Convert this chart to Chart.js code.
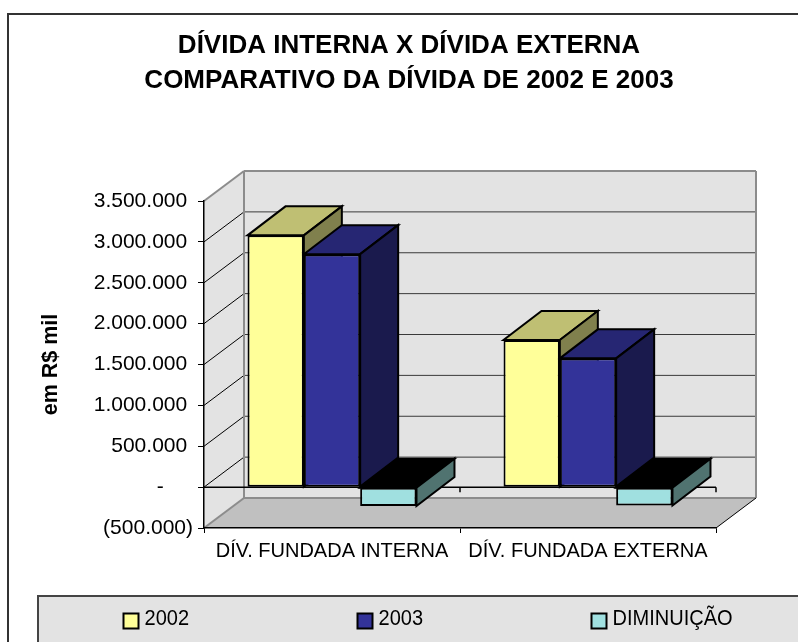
<!DOCTYPE html>
<html>
<head>
<meta charset="utf-8">
<script src="https://cdn.jsdelivr.net/npm/chart.js@4/dist/chart.umd.min.js"></script>
<style>
  body { margin: 0; background: #fff; }
  canvas { display: block; }
</style>
</head>
<body>
<canvas id="barChart" width="798" height="642"></canvas>
<script>
const titleLines = ['DÍVIDA INTERNA X DÍVIDA EXTERNA', 'COMPARATIVO DA DÍVIDA DE 2002 E 2003'];
const categories = ['DÍV. FUNDADA INTERNA', 'DÍV. FUNDADA EXTERNA'];
const seriesNames = ['2002', '2003', 'DIMINUIÇÃO'];
const values2002 = [3080000, 1800000];
const values2003 = [2850000, 1575000];
const valuesDiminuicao = [-230000, -225000];
const yMin = -500000;
const yMax = 3500000;
const yStep = 500000;
const yTitle = 'em R$ mil';

const FONT = '"Liberation Sans", Arial, sans-serif';

// front / top / side colours of each series
const faceColors = [
  { front: '#ffff99', top: '#bfbf73', side: '#80804d' },
  { front: '#333399', top: '#262673', side: '#1a1a4d' },
  { front: '#a0e0e0', top: '#000000', side: '#507370' }
];

// depth of the walls and of the bars
const WALL_DX = 40, WALL_DY = -30;
const BAR_DX = 38, BAR_DY = -29;

function poly(ctx, pts, fill, stroke, lw) {
  ctx.beginPath();
  ctx.moveTo(pts[0][0], pts[0][1]);
  for (let i = 1; i < pts.length; i++) ctx.lineTo(pts[i][0], pts[i][1]);
  ctx.closePath();
  if (fill) { ctx.fillStyle = fill; ctx.fill(); }
  if (stroke) { ctx.strokeStyle = stroke; ctx.lineWidth = lw; ctx.stroke(); }
}

function line(ctx, x1, y1, x2, y2, color, lw) {
  ctx.beginPath();
  ctx.moveTo(x1, y1);
  ctx.lineTo(x2, y2);
  ctx.strokeStyle = color;
  ctx.lineWidth = lw;
  ctx.stroke();
}

function formatNumber(v) {
  return String(Math.abs(v)).replace(/\B(?=(\d{3})+(?!\d))/g, '.');
}

const walls3d = {
  id: 'walls3d',
  beforeDraw(chart) {
    const { ctx, chartArea, scales: { y } } = chart;
    const L = chartArea.left, R = chartArea.right, T = chartArea.top, B = chartArea.bottom;
    const dx = WALL_DX, dy = WALL_DY;
    ctx.save();

    // outer frame
    ctx.strokeStyle = '#333';
    ctx.lineWidth = 2;
    ctx.strokeRect(8, 14, 820, 700);

    // title
    ctx.fillStyle = '#000';
    ctx.font = 'bold 26px ' + FONT;
    ctx.textAlign = 'center';
    ctx.textBaseline = 'middle';
    titleLines.forEach((t, i) => ctx.fillText(t, 409, 46 + i * 34.5));

    // walls and floor
    poly(ctx, [[L + dx, T + dy], [R + dx, T + dy], [R + dx, B + dy], [L + dx, B + dy]], '#e3e3e3');
    poly(ctx, [[L, T], [L + dx, T + dy], [L + dx, B + dy], [L, B]], '#e3e3e3');
    poly(ctx, [[L, B], [R, B], [R + dx, B + dy], [L + dx, B + dy]], '#c0c0c0');

    // grid on back wall and side wall
    y.ticks.forEach(t => {
      if (t.value === y.max || t.value === y.min) return;
      const py = y.getPixelForValue(t.value);
      line(ctx, L + dx, py + dy, R + dx, py + dy, '#3a3a3a', 1);
      line(ctx, L, py, L + dx, py + dy, '#000', 1);
    });

    // wall edges
    const edge = '#8c8c8c';
    line(ctx, L + dx, T + dy, R + dx, T + dy, edge, 2);
    line(ctx, R + dx, T + dy, R + dx, B + dy, edge, 2);
    line(ctx, L + dx, T + dy, L + dx, B + dy, edge, 2);
    line(ctx, L + dx, B + dy, R + dx, B + dy, edge, 2);
    line(ctx, L, T, L + dx, T + dy, edge, 2);
    line(ctx, L, B, L + dx, B + dy, edge, 2);
    line(ctx, R, B, R + dx, B + dy, '#000', 1);
    ctx.restore();
  },
  beforeDatasetsDraw(chart) {
    const { ctx, chartArea, scales: { x, y } } = chart;
    ctx.save();

    // category axis on the zero plane
    const y0 = y.getPixelForValue(0);
    line(ctx, chartArea.left, y0, chartArea.right, y0, '#000', 1.5);
    categories.forEach((c, i) => {
      const bx = x.getPixelForValue(i + 0.5);
      line(ctx, bx, y0, bx, y0 + 5, '#000', 1.5);
    });

    // top and side faces of the bars
    categories.forEach((c, j) => {
      chart.data.datasets.forEach((ds, i) => {
        const bar = chart.getDatasetMeta(i).data[j];
        const { x: bx, y: by, base, width } = bar.getProps(['x', 'y', 'base', 'width'], true);
        const left = bx - width / 2, right = bx + width / 2;
        const top = Math.min(by, base), bottom = Math.max(by, base);
        poly(ctx, [[left, top], [right, top], [right + BAR_DX, top + BAR_DY], [left + BAR_DX, top + BAR_DY]],
          faceColors[i].top, '#000', 2);
        poly(ctx, [[right, top], [right + BAR_DX, top + BAR_DY], [right + BAR_DX, bottom + BAR_DY], [right, bottom]],
          faceColors[i].side, '#000', 2);
      });
    });
    ctx.restore();
  },
  afterDraw(chart) {
    const { ctx } = chart;
    ctx.save();

    // legend box
    ctx.fillStyle = '#e3e3e3';
    ctx.fillRect(38, 596, 800, 60);
    ctx.strokeStyle = '#444';
    ctx.lineWidth = 2;
    ctx.strokeRect(38, 596, 800, 60);

    chart.data.datasets.forEach((ds, i) => {
      const mx = 123.5 + i * 234;
      ctx.fillStyle = ds.backgroundColor;
      ctx.fillRect(mx, 613.5, 15, 15);
      ctx.strokeStyle = '#000';
      ctx.lineWidth = 2;
      ctx.strokeRect(mx, 613.5, 15, 15);

      ctx.save();
      ctx.translate(mx + 21, 618.5);
      ctx.scale(0.91, 1);
      ctx.fillStyle = '#000';
      ctx.font = '22px ' + FONT;
      ctx.textAlign = 'left';
      ctx.textBaseline = 'middle';
      ctx.fillText(ds.label, 0, 0);
      ctx.restore();
    });
    ctx.restore();
  }
};

const seriesValues = [values2002, values2003, valuesDiminuicao];

const barChart = new Chart(document.getElementById('barChart').getContext('2d'), {
  type: 'bar',
  data: {
    labels: categories,
    datasets: seriesNames.map((name, i) => ({
      label: name,
      data: seriesValues[i],
      backgroundColor: faceColors[i].front,
      borderColor: '#000',
      borderWidth: 2,
      borderSkipped: false,
      categoryPercentage: 0.66,
      barPercentage: 1.0
    }))
  },
  options: {
    responsive: false,
    animation: false,
    layout: {
      padding: { top: 201, left: 30, right: 82, bottom: 74 }
    },
    scales: {
      x: {
        ticks: {
          color: '#000',
          font: { family: FONT, size: 20 },
          padding: 6,
          maxRotation: 0,
          autoSkip: false
        },
        grid: { drawOnChartArea: false, tickLength: 5, color: '#000', offset: true },
        border: { color: '#000', width: 1.5 },
        afterFit(scale) { scale.height = 40; }
      },
      y: {
        min: yMin,
        max: yMax,
        ticks: {
          stepSize: yStep,
          color: '#000',
          font: { family: FONT, size: 21 },
          padding: 5,
          callback: function(value) {
            if (value === 0) return '-     ';
            if (value < 0) return '(' + formatNumber(value) + ')';
            return formatNumber(value) + ' ';
          }
        },
        grid: { drawOnChartArea: false, tickLength: 6, color: '#000' },
        border: { color: '#000', width: 1.5 },
        title: {
          display: true,
          text: yTitle,
          color: '#000',
          font: { family: FONT, size: 21.5, weight: 'bold' },
          padding: { top: 8, bottom: 0 }
        },
        afterFit(scale) { scale.width = 174; }
      }
    },
    plugins: {
      legend: { display: false },
      title: { display: false },
      tooltip: { enabled: false }
    }
  },
  plugins: [walls3d]
});
</script>
</body>
</html>
